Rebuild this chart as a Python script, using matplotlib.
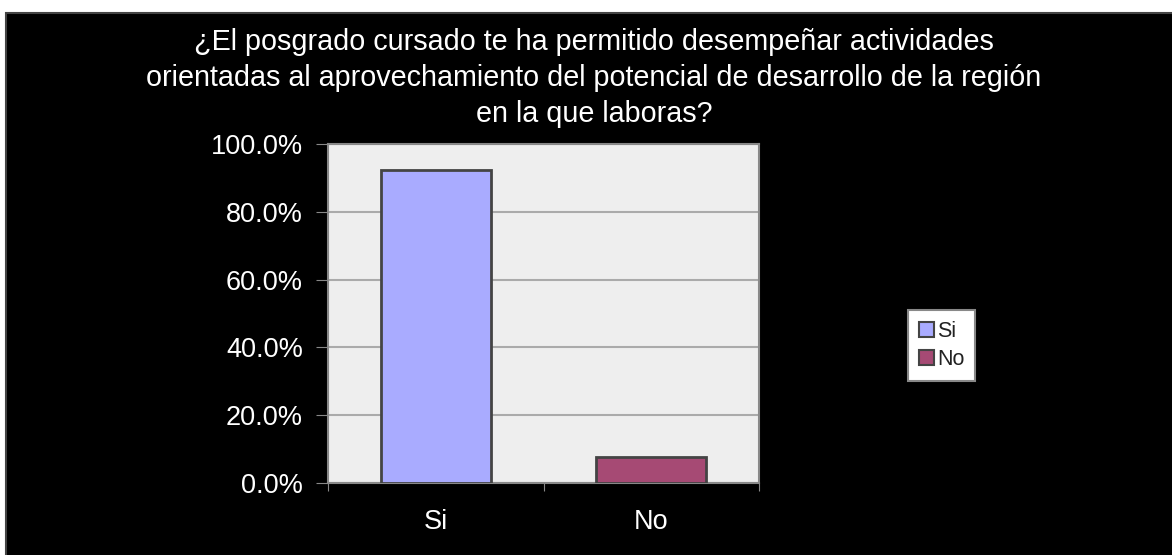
import matplotlib.pyplot as plt
from matplotlib.patches import Rectangle, Patch
from matplotlib.ticker import PercentFormatter

# Data
categories = ['Si', 'No']
values = [92.3, 7.7]
bar_colors = ['#a9abff', '#a64a74']
title_lines = ['¿El posgrado cursado te ha permitido desempeñar actividades',
               'orientadas al aprovechamiento del potencial de desarrollo de la región',
               'en la que laboras?']

plt.rcParams['font.family'] = ['Liberation Sans', 'DejaVu Sans']

W, H = 1172, 555
fig = plt.figure(figsize=(W / 100, H / 100), dpi=100, facecolor='white')

# black panel with thin gray border
fig.patches.append(Rectangle((6 / W, -0.01), 1, 1 - 13 / H + 0.01, transform=fig.transFigure,
                             facecolor='black', edgecolor='#444444', linewidth=1.5, zorder=-10))

ax = fig.add_axes([328 / W, 1 - 483 / H, (759 - 328) / W, (483 - 144) / H])
ax.set_facecolor('#eeeeee')

x = range(len(categories))
ax.bar(x, values, width=0.51, color=bar_colors, edgecolor='#444444', linewidth=2, zorder=3)

ax.set_xlim(-0.5, 1.5)
ax.set_ylim(0, 100)
ax.set_yticks([0, 20, 40, 60, 80, 100])
ax.yaxis.set_major_formatter(PercentFormatter(decimals=1))
ax.set_xticks([-0.5, 0.5, 1.5])
ax.set_xticklabels(['', '', ''])
ax.set_xticks(list(x), minor=True)
ax.set_xticklabels(categories, minor=True)
ax.tick_params(axis='x', which='minor', length=0, pad=19, labelsize=19.5, labelcolor='white')
ax.tick_params(axis='x', which='major', length=6, color='#888888', direction='out')
ax.tick_params(axis='y', length=9, color='#888888', labelsize=19.5, labelcolor='white', pad=9)

ax.grid(axis='y', color='#aaaaaa', linewidth=1.5, zorder=1)
ax.set_axisbelow(True)
for side in ['left', 'bottom', 'right', 'top']:
    ax.spines[side].set_color('#888888')
    ax.spines[side].set_linewidth(1.5)

for i, line in enumerate(title_lines):
    fig.text(594 / W, 1 - (50 + 36 * i) / H, line, ha='center', va='baseline',
             color='white', fontsize=20.7)

handles = [Patch(facecolor=c, edgecolor='#444444', linewidth=1.5) for c in bar_colors]
leg = fig.legend(handles, categories, loc='upper left', bbox_to_anchor=(908 / W, 1 - 310 / H),
                 frameon=True, fancybox=False, fontsize=15.5, handlelength=0.7, handleheight=0.7,
                 handletextpad=0.15, borderpad=0.5, labelspacing=0.35, borderaxespad=0)
leg.get_frame().set_facecolor('white')
leg.get_frame().set_alpha(1)
leg.get_frame().set_edgecolor('#888888')
leg.get_frame().set_linewidth(1.5)
for t in leg.get_texts():
    t.set_color('#222222')

fig.savefig('out.png', dpi=100, facecolor='white')
